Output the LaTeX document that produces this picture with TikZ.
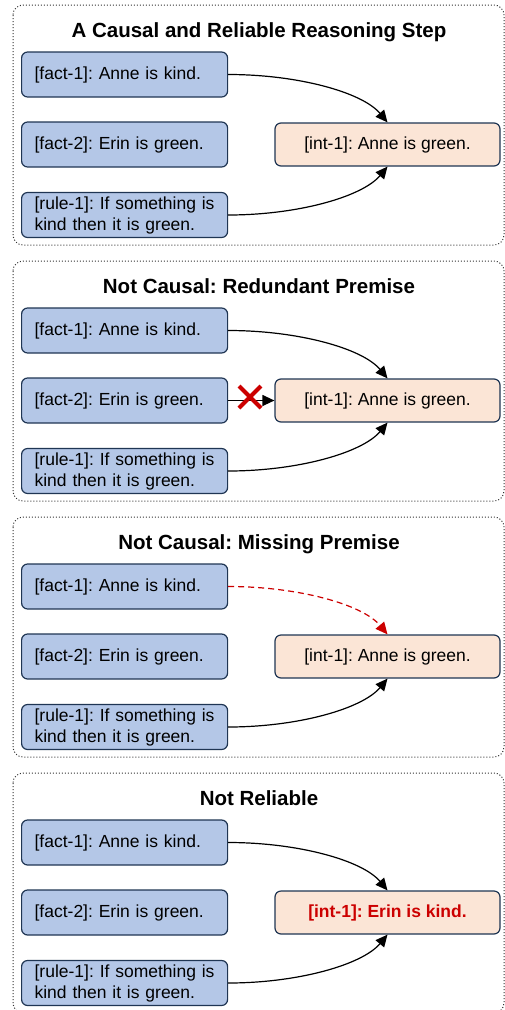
\documentclass[tikz,border=0pt]{standalone}
\usepackage{fontspec}
\setmainfont{Liberation Sans}
\usetikzlibrary{arrows.meta}
\definecolor{factfill}{HTML}{B4C7E7}
\definecolor{intfill}{HTML}{FBE5D6}
\definecolor{navy}{HTML}{1F3553}
\definecolor{xred}{HTML}{CC0000}
\tikzset{
  panelbox/.style={draw=black!80, dotted, line width=1pt, rounded corners=10pt},
  paneltitle/.style={font=\fontsize{20.5}{24}\selectfont\bfseries, anchor=base},
  factbox/.style={draw=navy, fill=factfill, line width=1.2pt, rounded corners=6pt,
    minimum width=206pt, minimum height=45pt, text width=180pt, inner xsep=13pt,
    align=left, anchor=west, font=\fontsize{17.5}{21}\selectfont},
  intbox/.style={draw=navy, fill=intfill, line width=1.2pt, rounded corners=6pt,
    minimum width=225pt, minimum height=43pt, align=center,
    font=\fontsize{17.5}{21}\selectfont},
  link/.style={line width=1.2pt, -{Triangle[length=12pt,width=11pt]}},
  redlink/.style={line width=1.2pt, xred, dash pattern=on 6pt off 4pt, -{Triangle[length=12pt,width=11pt]}},
  cross/.style={line width=4pt, xred},
  every node/.append style={execute at begin node=\frenchspacing}
}
\newcommand{\ruletext}{\mbox{[rule-1]: If something is}\\\mbox{kind then it is green.}}
\begin{document}
\begin{tikzpicture}[x=1pt,y=-1pt]
\useasboundingbox (0,0) rectangle (505,1010);
% ---------- Panel 1 ----------
\draw[panelbox] (13,5) rectangle (504,245);
\node[paneltitle] (t1) at (259,37) {A Causal and Reliable Reasoning Step};
\node[factbox] (a1) at (21,74.5) {[fact-1]: Anne is kind.};
\node[factbox] (a2) at (21,144.5) {[fact-2]: Erin is green.};
\node[factbox] (ar) at (21,215) {\ruletext};
\node[intbox] (ai) at (387.5,144.5) {[int-1]: Anne is green.};
\draw[link] (a1.east) .. controls +(70,0) and +(-25,-30) .. (ai.north);
\draw[link] (ar.east) .. controls +(70,0) and +(-25,30) .. (ai.south);
% ---------- Panel 2 ----------
\begin{scope}[yshift=-256pt]
\draw[panelbox] (13,5) rectangle (504,245);
\node[paneltitle] (t2) at (259,37) {Not Causal: Redundant Premise};
\node[factbox] (b1) at (21,74.5) {[fact-1]: Anne is kind.};
\node[factbox] (b2) at (21,144.5) {[fact-2]: Erin is green.};
\node[factbox] (br) at (21,215) {\ruletext};
\node[intbox] (bi) at (387.5,144.5) {[int-1]: Anne is green.};
\draw[link] (b1.east) .. controls +(70,0) and +(-25,-30) .. (bi.north);
\draw[link] (br.east) .. controls +(70,0) and +(-25,30) .. (bi.south);
\draw[link] (b2.east) -- (b2.east -| bi.west);
\coordinate (bx) at (250,141);
\draw[cross] ([shift={(-11,-11)}]bx) -- ([shift={(11,11)}]bx);
\draw[cross] ([shift={(-11,11)}]bx) -- ([shift={(11,-11)}]bx);
\end{scope}
% ---------- Panel 3 ----------
\begin{scope}[yshift=-512pt]
\draw[panelbox] (13,5) rectangle (504,245);
\node[paneltitle] (t3) at (259,37) {Not Causal: Missing Premise};
\node[factbox] (c1) at (21,74.5) {[fact-1]: Anne is kind.};
\node[factbox] (c2) at (21,144.5) {[fact-2]: Erin is green.};
\node[factbox] (cr) at (21,215) {\ruletext};
\node[intbox] (ci) at (387.5,144.5) {[int-1]: Anne is green.};
\draw[redlink] (c1.east) .. controls +(70,0) and +(-25,-30) .. (ci.north);
\draw[link] (cr.east) .. controls +(70,0) and +(-25,30) .. (ci.south);
\end{scope}
% ---------- Panel 4 ----------
\begin{scope}[yshift=-768pt]
\draw[panelbox] (13,5) rectangle (504,245);
\node[paneltitle] (t4) at (259,37) {Not Reliable};
\node[factbox] (d1) at (21,74.5) {[fact-1]: Anne is kind.};
\node[factbox] (d2) at (21,144.5) {[fact-2]: Erin is green.};
\node[factbox] (dr) at (21,215) {\ruletext};
\node[intbox, text=xred, font=\fontsize{17.5}{21}\selectfont\bfseries] (di) at (387.5,144.5) {[int-1]: Erin is kind.};
\draw[link] (d1.east) .. controls +(70,0) and +(-25,-30) .. (di.north);
\draw[link] (dr.east) .. controls +(70,0) and +(-25,30) .. (di.south);
\end{scope}
\end{tikzpicture}
\end{document}
